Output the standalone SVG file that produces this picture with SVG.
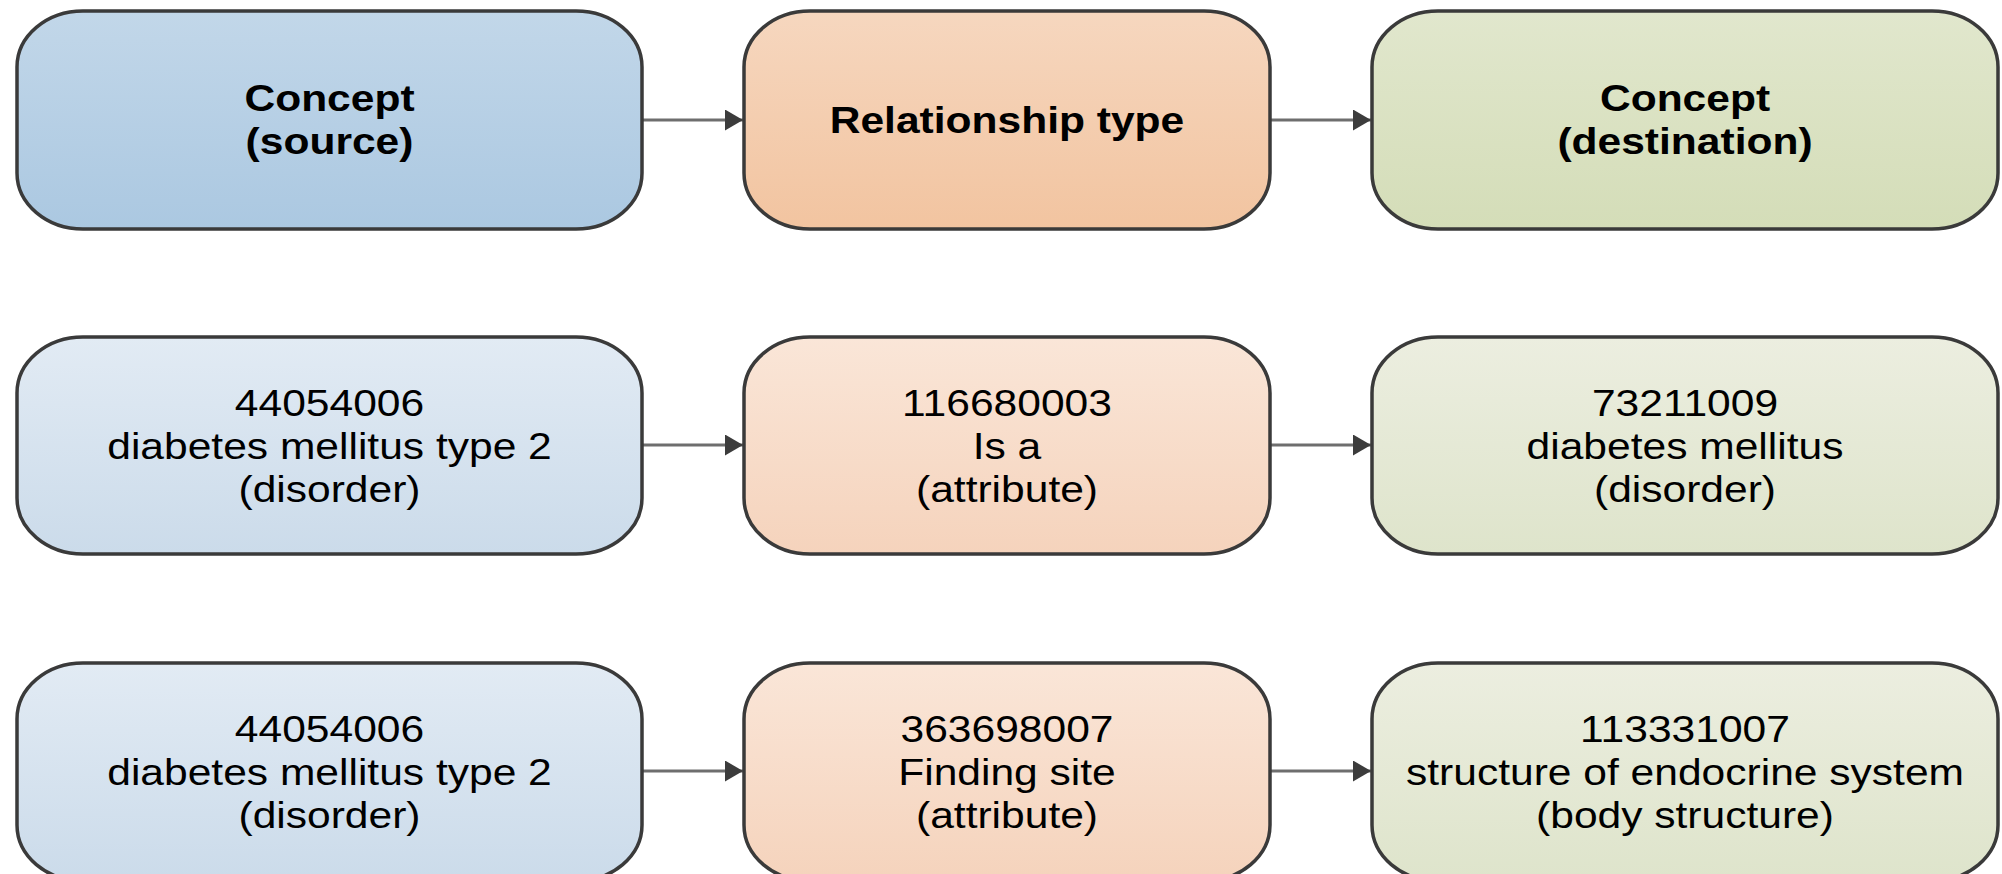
<svg xmlns="http://www.w3.org/2000/svg" width="2002" height="874" viewBox="0 0 2002 874">
<style>
.box{stroke:#3a3a3a;stroke-width:3.5}
.t{font-family:"Liberation Sans",Arial,Helvetica,sans-serif;font-size:37px;fill:#000;text-anchor:middle}
.b{font-weight:bold}
.c{stroke:#6e6e6e;stroke-width:3;fill:none}
</style>
<defs>
<linearGradient id="gB1" x1="0" y1="0" x2="0" y2="1"><stop offset="0" stop-color="#c2d7e9"/><stop offset="1" stop-color="#abc8e1"/></linearGradient>
<linearGradient id="gO1" x1="0" y1="0" x2="0" y2="1"><stop offset="0" stop-color="#f6d7bf"/><stop offset="1" stop-color="#f2c4a0"/></linearGradient>
<linearGradient id="gG1" x1="0" y1="0" x2="0" y2="1"><stop offset="0" stop-color="#e1e7cd"/><stop offset="1" stop-color="#d4ddb8"/></linearGradient>
<linearGradient id="gB2" x1="0" y1="0" x2="0" y2="1"><stop offset="0" stop-color="#e2ebf4"/><stop offset="1" stop-color="#cbdbea"/></linearGradient>
<linearGradient id="gO2" x1="0" y1="0" x2="0" y2="1"><stop offset="0" stop-color="#fae6d8"/><stop offset="1" stop-color="#f5d3bc"/></linearGradient>
<linearGradient id="gG2" x1="0" y1="0" x2="0" y2="1"><stop offset="0" stop-color="#eceee0"/><stop offset="1" stop-color="#dee4cb"/></linearGradient>
<marker id="ah" markerUnits="userSpaceOnUse" markerWidth="20" markerHeight="22" refX="18" refY="10.5" orient="auto"><path d="M0,0 L18,10.5 L0,21 Z" fill="#3c3c3c"/></marker>
</defs>
<g id="connectors">
<line class="c" x1="642" y1="120" x2="743" y2="120" marker-end="url(#ah)"/>
<line class="c" x1="1270" y1="120" x2="1371" y2="120" marker-end="url(#ah)"/>
<line class="c" x1="642" y1="445" x2="743" y2="445" marker-end="url(#ah)"/>
<line class="c" x1="1270" y1="445" x2="1371" y2="445" marker-end="url(#ah)"/>
<line class="c" x1="642" y1="771" x2="743" y2="771" marker-end="url(#ah)"/>
<line class="c" x1="1270" y1="771" x2="1371" y2="771" marker-end="url(#ah)"/>
</g>
<g id="hdr-source">
<rect class="box" x="17" y="11" width="625" height="218" rx="66" ry="56" fill="url(#gB1)"/>
<g transform="translate(329.5,0) scale(1.15,1)"><text class="t b" x="0" y="111">Concept</text><text class="t b" x="0" y="154">(source)</text></g>
</g>
<g id="hdr-relationship">
<rect class="box" x="744" y="11" width="526" height="218" rx="66" ry="56" fill="url(#gO1)"/>
<g transform="translate(1007,0) scale(1.15,1)"><text class="t b" x="0" y="133">Relationship type</text></g>
</g>
<g id="hdr-destination">
<rect class="box" x="1372" y="11" width="626" height="218" rx="66" ry="56" fill="url(#gG1)"/>
<g transform="translate(1685,0) scale(1.15,1)"><text class="t b" x="0" y="111">Concept</text><text class="t b" x="0" y="154">(destination)</text></g>
</g>
<g id="r1-source">
<rect class="box" x="17" y="337" width="625" height="217" rx="66" ry="56" fill="url(#gB2)"/>
<g transform="translate(329.5,0) scale(1.15,1)"><text class="t" x="0" y="416">44054006</text><text class="t" x="0" y="459">diabetes mellitus type 2</text><text class="t" x="0" y="502">(disorder)</text></g>
</g>
<g id="r1-relationship">
<rect class="box" x="744" y="337" width="526" height="217" rx="66" ry="56" fill="url(#gO2)"/>
<g transform="translate(1007,0) scale(1.15,1)"><text class="t" x="0" y="416">116680003</text><text class="t" x="0" y="459">Is a</text><text class="t" x="0" y="502">(attribute)</text></g>
</g>
<g id="r1-destination">
<rect class="box" x="1372" y="337" width="626" height="217" rx="66" ry="56" fill="url(#gG2)"/>
<g transform="translate(1685,0) scale(1.15,1)"><text class="t" x="0" y="416">73211009</text><text class="t" x="0" y="459">diabetes mellitus</text><text class="t" x="0" y="502">(disorder)</text></g>
</g>
<g id="r2-source">
<rect class="box" x="17" y="663" width="625" height="218" rx="66" ry="56" fill="url(#gB2)"/>
<g transform="translate(329.5,0) scale(1.15,1)"><text class="t" x="0" y="742">44054006</text><text class="t" x="0" y="785">diabetes mellitus type 2</text><text class="t" x="0" y="828">(disorder)</text></g>
</g>
<g id="r2-relationship">
<rect class="box" x="744" y="663" width="526" height="218" rx="66" ry="56" fill="url(#gO2)"/>
<g transform="translate(1007,0) scale(1.15,1)"><text class="t" x="0" y="742">363698007</text><text class="t" x="0" y="785">Finding site</text><text class="t" x="0" y="828">(attribute)</text></g>
</g>
<g id="r2-destination">
<rect class="box" x="1372" y="663" width="626" height="218" rx="66" ry="56" fill="url(#gG2)"/>
<g transform="translate(1685,0) scale(1.15,1)"><text class="t" x="0" y="742">113331007</text><text class="t" x="0" y="785">structure of endocrine system</text><text class="t" x="0" y="828">(body structure)</text></g>
</g>
</svg>
